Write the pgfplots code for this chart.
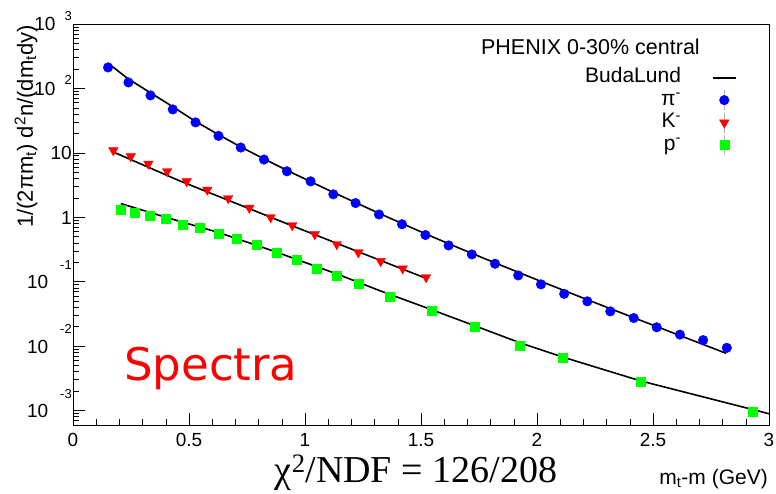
\documentclass[border=0pt]{standalone}
\usepackage{pgfplots}
\pgfplotsset{compat=1.18}
\usepackage{fontspec}
\setmainfont{Liberation Sans}
\newfontfamily\seriffont{Liberation Serif}
\newfontfamily\dejavu{DejaVu Sans}
\definecolor{rblue}{RGB}{0,0,255}
\definecolor{rred}{RGB}{255,0,0}
\definecolor{rgreen}{RGB}{0,255,0}
\newcommand{\expo}[2]{\raisebox{#1}{\fontsize{13}{13}\selectfont #2}}
\pgfplotsset{
  errlegend/.style={legend image code/.code={\draw[gray!60, line width=0.5pt] (0.3cm,-10pt) -- (0.3cm,10pt);
    \draw[mark repeat=2,mark phase=2,##1] plot coordinates {(0cm,0cm) (0.3cm,0cm) (0.6cm,0cm)};}},
  linelegend/.style={legend image code/.code={\draw[##1] (-3pt,0pt) -- (20pt,0pt);}},
}
\begin{document}
\begin{tikzpicture}
\begin{axis}[
  scale only axis, width=696pt, height=401pt,
  ymode=log, xmin=0, xmax=3, ymin=5.96e-4, ymax=1000,
  axis line style={line width=0.9pt},
  tick align=inside, xtick pos=bottom, ytick pos=left,
  major tick length=12pt, minor tick length=6pt,
  every tick/.style={black, line width=0.6pt},
  xtick={0,0.5,1,1.5,2,2.5,3},
  xticklabels={0,0.5,1,1.5,2,2.5,3},
  minor xtick={0.1,0.2,0.3,0.4,0.6,0.7,0.8,0.9,1.1,1.2,1.3,1.4,1.6,1.7,1.8,1.9,2.1,2.2,2.3,2.4,2.6,2.7,2.8,2.9},
  ytick={1e-3,1e-2,1e-1,1,10,100,1000},
  yticklabels={
    10\hspace{12pt}\expo{19.5pt}{-3},
    10\hspace{12pt}\expo{19.5pt}{-2},
    10\hspace{12pt}\expo{19.5pt}{-1},
    1\hspace{19pt},
    10\hspace{15pt},
    10\hspace{9pt}\expo{10.5pt}{2},
    10\hspace{9pt}\expo{10.5pt}{3}},
  minor ytick={6e-4,7e-4,8e-4,9e-4,2e-3,3e-3,4e-3,5e-3,6e-3,7e-3,8e-3,9e-3,2e-2,3e-2,4e-2,5e-2,6e-2,7e-2,8e-2,9e-2,0.2,0.3,0.4,0.5,0.6,0.7,0.8,0.9,2,3,4,5,6,7,8,9,20,30,40,50,60,70,80,90,200,300,400,500,600,700,800,900},
  ticklabel style={font=\fontsize{19}{19}\selectfont},
  yticklabel style={anchor=base east, inner sep=0pt, xshift=-1pt, yshift=-7pt},
  xticklabel style={anchor=north, inner sep=0pt, yshift=-8pt},
  legend plot pos=right,
  legend cell align=right,
  legend style={draw=none, fill=none, at={(0.958,0.896)}, anchor=north east,
    font=\fontsize{21}{21}\selectfont, column sep=30pt, row sep=2pt,
    nodes={inner sep=1pt, text height=14pt, text depth=4pt}},
]
\addlegendimage{black, line width=1.6pt, linelegend}
\addlegendentry{BudaLund}

\addplot[only marks, mark=*, mark size=4.8pt, color=rblue, mark options={draw=none, fill=rblue}, errlegend]
coordinates {
(0.151,211.7) (0.239,123.9) (0.334,77.9) (0.430,47.2) (0.528,29.7) (0.627,18.35)
(0.723,12.09) (0.823,7.87) (0.922,5.17) (1.024,3.61) (1.122,2.27) (1.218,1.66)
(1.319,1.105) (1.418,0.779) (1.519,0.530) (1.619,0.365) (1.719,0.265) (1.819,0.190)
(1.919,0.125) (2.017,0.0908) (2.117,0.0647) (2.217,0.0495) (2.316,0.0346) (2.417,0.0273)
(2.516,0.0196) (2.616,0.01508) (2.716,0.01239) (2.818,0.00941)};
\addlegendentry{π\textsuperscript{-}}

\addplot[only marks, mark=triangle*, mark size=5.5pt, color=rred, mark options={draw=none, fill=rred, rotate=180}, errlegend]
coordinates {
(0.174,10.9) (0.249,8.83) (0.325,6.75) (0.406,5.17) (0.490,3.61) (0.579,2.67)
(0.669,1.97) (0.760,1.40) (0.852,1.00) (0.945,0.751) (1.042,0.545) (1.137,0.381)
(1.230,0.284) (1.326,0.208) (1.421,0.160) (1.522,0.117)};
\addlegendentry{K\textsuperscript{-}}

\addplot[only marks, mark=square*, mark size=4.5pt, color=rgreen, mark options={draw=none, fill=rgreen}, errlegend]
coordinates {
(0.206,1.33) (0.264,1.195) (0.332,1.07) (0.401,0.941) (0.473,0.773) (0.547,0.682)
(0.626,0.565) (0.706,0.459) (0.792,0.381) (0.878,0.280) (0.964,0.221) (1.050,0.160)
(1.137,0.126) (1.230,0.0915) (1.365,0.058) (1.546,0.0349) (1.733,0.0203) (1.924,0.0101)
(2.111,0.00668) (2.447,0.0028) (2.930,0.000957)};
\addlegendentry{p\textsuperscript{-}}

% BudaLund fits
\addplot[black, line width=1.6pt, forget plot] coordinates {
(0.151,246.6) (0.237,141.4) (0.336,84.6) (0.431,51.7) (0.526,31.1) (0.625,19.36)
(0.724,12.3) (0.823,8.07) (0.922,5.35) (1.022,3.61) (1.121,2.44) (1.220,1.68)
(1.319,1.153) (1.418,0.801) (1.517,0.559) (1.616,0.393) (1.716,0.278) (1.841,0.182)
(2.017,0.1012) (2.216,0.0527) (2.418,0.0275) (2.616,0.01459) (2.815,0.00774)};
\addplot[black, line width=1.6pt, forget plot] coordinates {
(0.174,10.3) (0.454,3.75) (0.939,0.751) (1.524,0.112)};
\addplot[black, line width=1.6pt, forget plot] coordinates {
(0.206,1.63) (0.400,1.0) (0.626,0.582) (0.878,0.287) (1.137,0.132) (1.323,0.0724)
(1.546,0.0367) (1.733,0.0206) (1.924,0.01135) (2.111,0.00676) (2.447,0.00288)
(2.930,0.001035) (3.0,0.000891)};
\end{axis}
\node[anchor=base east, inner sep=0pt, font=\fontsize{21.5}{21.5}\selectfont] at (627pt,370.7pt) {PHENIX 0-30\% central};
\node[anchor=base east, inner sep=0pt, font=\fontsize{21}{21}\selectfont] at (695pt,-59pt) {m\textsubscript{t}-m (GeV)};
\node[anchor=base, inner sep=0pt, font=\seriffont\fontsize{38}{38}\selectfont] at (343pt,-57pt) {χ\textsuperscript{2}/NDF = 126/208};
\node[anchor=base west, inner sep=0pt, text=rred, font=\dejavu\fontsize{45}{45}\selectfont] at (51pt,45pt) {Spectra};
\node[rotate=90, anchor=base east, inner sep=0pt, font=\fontsize{22}{22}\selectfont] at (-40pt,400pt) {1/(2πm\textsubscript{t}) d\textsuperscript{2}n/(dm\textsubscript{t}dy)};
\pgfresetboundingbox
\path (-73pt,-68pt) rectangle (703pt,425pt);
\end{tikzpicture}
\end{document}
